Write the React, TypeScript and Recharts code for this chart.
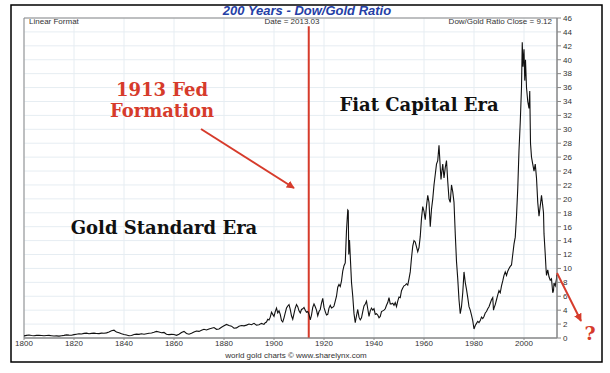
import { LineChart, Line, XAxis, YAxis, CartesianGrid, ReferenceLine, ReferenceArea } from 'recharts';

// Dow/Gold ratio
const goldYears = [
  1800, 1801, 1802, 1803, 1804, 1805, 1806, 1807, 1808, 1809,
  1810, 1811, 1812, 1813, 1814, 1815, 1816, 1817, 1818, 1819,
  1820, 1821, 1822, 1823, 1824, 1825, 1826, 1827, 1828, 1829,
  1830, 1831, 1832, 1833, 1834, 1835, 1836, 1837, 1838, 1839,
  1840, 1841, 1842, 1843, 1844, 1845, 1846, 1847, 1848, 1849,
  1850, 1851, 1852, 1853, 1854, 1855, 1856, 1857, 1858, 1859,
  1860, 1861, 1862, 1863, 1864, 1865, 1866, 1867, 1868, 1869,
  1870, 1871, 1872, 1873, 1874, 1875, 1876, 1877, 1878, 1879,
  1880, 1881, 1882, 1883, 1884, 1885, 1886, 1887, 1888, 1889,
  1890, 1891, 1892, 1893, 1894, 1895, 1896,
  1896.5, 1897, 1897.5, 1898, 1898.5, 1899, 1899.5, 1900, 1900.5, 1901,
  1901.5, 1902, 1902.5, 1903, 1903.5, 1904, 1904.5, 1905, 1905.5, 1906,
  1906.5, 1907, 1907.5, 1908, 1908.5, 1909, 1909.5, 1910, 1910.5, 1911,
  1911.5, 1912, 1912.5, 1913, 1913.5,
];
const goldRatio = [
  0.30, 0.38, 0.42, 0.35, 0.33, 0.38, 0.40, 0.36, 0.32, 0.35,
  0.38, 0.33, 0.28, 0.30, 0.27, 0.33, 0.38, 0.45, 0.42, 0.40,
  0.48, 0.55, 0.60, 0.58, 0.66, 0.70, 0.62, 0.66, 0.70, 0.65,
  0.63, 0.70, 0.68, 0.74, 0.86, 1.05, 1.12, 0.85, 0.75, 0.60,
  0.50, 0.42, 0.32, 0.36, 0.50, 0.55, 0.52, 0.60, 0.55, 0.62,
  0.68, 0.72, 0.82, 0.95, 0.85, 0.75, 0.80, 0.55, 0.48, 0.52,
  0.50, 0.38, 0.55, 0.80, 0.95, 0.65, 0.55, 0.68, 0.85, 1.00,
  0.95, 1.10, 1.25, 1.15, 1.30, 1.40, 1.50, 1.25, 1.30, 1.55,
  1.75, 1.95, 1.80, 1.70, 1.40, 1.45, 1.70, 1.80, 1.75, 1.85,
  2.00, 1.90, 2.10, 1.85, 1.90, 2.10, 1.95,
  2.2, 2.3, 2.7, 2.6, 3.0, 3.7, 3.4, 3.1, 3.8, 4.3,
  3.6, 3.9, 3.4, 2.5, 2.3, 2.9, 3.6, 4.3, 4.6, 4.8,
  4.1, 3.2, 2.7, 3.5, 4.3, 4.8, 4.5, 3.9, 3.6, 4.1,
  4.2, 4.4, 4.0, 3.7, 3.8,
];

const fiatYears = [
  1914, 1914.5, 1915, 1915.5, 1916, 1916.5, 1917, 1917.5, 1918, 1918.5,
  1919, 1919.5, 1920, 1920.5, 1921, 1921.5, 1922, 1922.5, 1923, 1923.5,
  1924, 1924.5, 1925, 1925.5, 1926, 1926.5, 1927, 1927.5, 1928, 1928.5,
  1929, 1929.5, 1929.7, 1929.9, 1930.2, 1930.5, 1931, 1931.5, 1932, 1932.5,
  1933, 1933.5, 1934, 1934.5, 1935, 1935.5, 1936, 1936.5, 1937, 1937.5,
  1938, 1938.5, 1939, 1939.5, 1940, 1940.5, 1941, 1941.5, 1942, 1942.5,
  1943, 1943.5, 1944, 1944.5, 1945, 1945.5, 1946, 1946.5, 1947, 1947.5,
  1948, 1948.5, 1949, 1949.5, 1950, 1950.5, 1951, 1951.5, 1952, 1952.5,
  1953, 1953.5, 1954, 1954.5, 1955, 1955.5, 1956, 1956.5, 1957, 1957.5,
  1958, 1958.5, 1959, 1959.5, 1960, 1960.5, 1961, 1961.5, 1962, 1962.5,
  1963, 1963.5, 1964, 1964.5, 1965, 1965.5, 1966, 1966.5, 1966.8, 1967,
  1967.5, 1968, 1968.5, 1969, 1969.5, 1970, 1970.5, 1971, 1971.5, 1972,
  1972.5, 1973, 1973.5, 1974, 1974.5, 1975, 1975.5, 1976, 1976.5, 1977,
  1977.5, 1978, 1978.5, 1979, 1979.5, 1980, 1980.5, 1981, 1981.5, 1982,
  1982.5, 1983, 1983.5, 1984, 1984.5, 1985, 1985.5, 1986, 1986.5, 1987,
  1987.5, 1987.8, 1988, 1988.5, 1989, 1989.5, 1990, 1990.5, 1991, 1991.5,
  1992, 1992.5, 1993, 1993.5, 1994, 1994.5, 1995, 1995.5, 1996, 1996.5,
  1997, 1997.5, 1998, 1998.5, 1999, 1999.3, 1999.6, 2000, 2000.3, 2000.6,
  2001, 2001.5, 2002, 2002.3, 2002.6, 2003, 2003.5, 2004, 2004.5, 2005,
  2005.5, 2006, 2006.5, 2007, 2007.5, 2007.8, 2008, 2008.5, 2008.8, 2009,
  2009.5, 2010, 2010.5, 2011, 2011.5, 2011.8, 2012, 2012.5, 2013, 2013.03,
];
const fiatRatio = [
  3.4, 2.6, 3.3, 4.4, 4.9, 4.5, 4.0, 3.2, 3.8, 4.1,
  5.0, 5.7, 4.4, 3.8, 3.3, 3.4, 4.3, 4.7, 4.3, 4.4,
  4.6, 5.3, 6.0, 7.3, 7.7, 7.4, 8.2, 9.6, 10.4, 10.8,
  15.5, 18.4, 18.3, 12.0, 14.1, 11.8, 8.0, 6.0, 3.5, 2.2,
  3.2, 4.1, 3.0, 2.6, 2.9, 3.8, 4.6, 4.9, 5.3, 4.2,
  3.1, 3.9, 4.3, 4.0, 4.2, 3.4, 3.5, 3.3, 2.9, 3.1,
  3.8, 3.9, 4.0, 4.2, 4.7, 5.1, 5.8, 4.9, 4.9, 5.0,
  4.7, 5.1, 4.5, 5.3, 5.9, 5.8, 6.8, 7.2, 7.5, 7.6,
  7.8, 7.6, 8.5, 9.5, 11.5, 13.2, 14.0, 13.8, 13.1, 12.4,
  13.0, 14.6, 17.2, 18.9, 18.2, 17.0, 19.0, 20.5, 19.5, 16.0,
  18.5, 20.0, 22.0, 23.5, 25.0, 25.5, 27.7, 24.5, 22.8, 23.5,
  25.0, 23.0, 24.5, 25.5, 22.5, 20.0, 19.5, 22.0, 21.0, 19.5,
  15.0, 11.0, 8.5, 5.5, 3.5, 4.5, 6.5, 9.5, 8.0, 7.0,
  5.8, 4.5, 4.0, 3.3, 2.5, 1.3, 1.8, 2.1, 2.4, 2.2,
  2.5, 3.0, 2.8, 3.1, 3.6, 3.8, 4.2, 4.5, 5.0, 5.5,
  5.8, 4.0, 4.3, 4.8, 5.5, 6.2, 6.8, 6.5, 7.5, 8.2,
  9.0, 9.5, 9.0, 9.6, 10.0, 10.3, 10.5, 12.0, 13.5, 14.5,
  17.5, 21.5, 27.0, 31.0, 36.0, 42.5, 39.0, 41.5, 37.0, 40.0,
  36.0, 34.0, 33.0, 35.5, 28.0, 26.0, 25.0, 24.0, 25.0, 23.0,
  19.5, 17.5, 19.0, 20.5, 19.0, 18.0, 15.0, 12.0, 10.0, 9.0,
  9.8, 8.8, 8.3, 8.5, 6.5, 6.8, 7.9, 7.5, 8.5, 9.12,
];

const xTicks = [1800, 1820, 1840, 1860, 1880, 1900, 1920, 1940, 1960, 1980, 2000];
const yTicks = [0, 2, 4, 6, 8, 10, 12, 14, 16, 18, 20, 22, 24, 26, 28, 30, 32, 34, 36, 38, 40, 42, 44, 46];

const years = [...goldYears, ...fiatYears];
const ratio = [...goldRatio, ...fiatRatio];
const data = years.map((year, i) => ({ year, ratio: ratio[i] }));

const RED = '#d63b2b';
const slab = '"DejaVu Serif", serif';
const small = { fontFamily: '"Liberation Sans", Arial, sans-serif', fontSize: 8, fill: '#333' };

export default function App() {
  return (
    <div style={{ position: 'absolute', left: 0, top: 0, width: 610, height: 373, background: '#fff' }}>
      <LineChart
        width={610}
        height={373}
        data={data}
        margin={{ top: 18, right: 23, left: 24, bottom: 15 }}
      >
        <CartesianGrid stroke="#e6edf2" />
        <XAxis
          dataKey="year"
          type="number"
          domain={[1800, 2013.2]}
          ticks={xTicks}
          tick={small}
          tickSize={2}
          tickMargin={0}
          height={20}
          stroke="#888"
          allowDataOverflow
        />
        <YAxis
          orientation="right"
          type="number"
          domain={[0, 46]}
          ticks={yTicks}
          interval={0}
          tick={small}
          tickSize={4}
          width={30}
          stroke="#888"
        />
        <ReferenceArea x1={1800} x2={2013.2} y1={0} y2={46} fill="none" stroke="#888" strokeWidth={1} />
        <ReferenceLine
          segment={[{ x: 1913.9, y: 0 }, { x: 1913.9, y: 44.8 }]}
          stroke={RED}
          strokeWidth={2}
        />
        <Line
          type="linear"
          dataKey="ratio"
          stroke="#111"
          strokeWidth={1.1}
          dot={false}
          isAnimationActive={false}
        />
      </LineChart>

      {/* annotations */}
      <svg width={610} height={373} style={{ position: 'absolute', left: 0, top: 0, pointerEvents: 'none' }}>
        <defs>
          <marker id="head" viewBox="0 0 10 10" refX="9" refY="5" markerWidth="4" markerHeight="4" orient="auto">
            <path d="M0,0 L10,5 L0,10 z" fill={RED} />
          </marker>
        </defs>
        <rect x={11} y={5} width={591} height={357} fill="none" stroke="#000" strokeWidth={1.5} />
        <text x={307} y={15} textAnchor="middle" fontFamily='"Liberation Sans", Arial, sans-serif' fontWeight="bold" fontStyle="italic" fontSize={13} fill="#2540a6">
          200 Years - Dow/Gold Ratio
        </text>
        <text x={29} y={24} {...small}>Linear Format</text>
        <text x={292} y={24} textAnchor="middle" {...small}>Date = 2013.03</text>
        <text x={552} y={24} textAnchor="end" {...small}>Dow/Gold Ratio Close = 9.12</text>
        <text x={296} y={358} textAnchor="middle" {...small}>world gold charts © www.sharelynx.com</text>

        <text x={162} y={96} textAnchor="middle" fontFamily={slab} fontWeight="bold" fontSize={18} fill={RED}>1913 Fed</text>
        <text x={162} y={117} textAnchor="middle" fontFamily={slab} fontWeight="bold" fontSize={18} fill={RED}>Formation</text>
        <line x1={201} y1={129} x2={294} y2={188} stroke={RED} strokeWidth={2} markerEnd="url(#head)" />

        <text x={419} y={111} textAnchor="middle" fontFamily={slab} fontWeight="bold" fontSize={18} fill="#111">Fiat Capital Era</text>
        <text x={164} y={234} textAnchor="middle" fontFamily={slab} fontWeight="bold" fontSize={18} fill="#111">Gold Standard Era</text>

        <line x1={557} y1={273} x2={581} y2={321} stroke={RED} strokeWidth={2} markerEnd="url(#head)" />
        <text x={590} y={340} textAnchor="middle" fontFamily={slab} fontWeight="bold" fontSize={19} fill={RED}>?</text>
      </svg>
    </div>
  );
}
